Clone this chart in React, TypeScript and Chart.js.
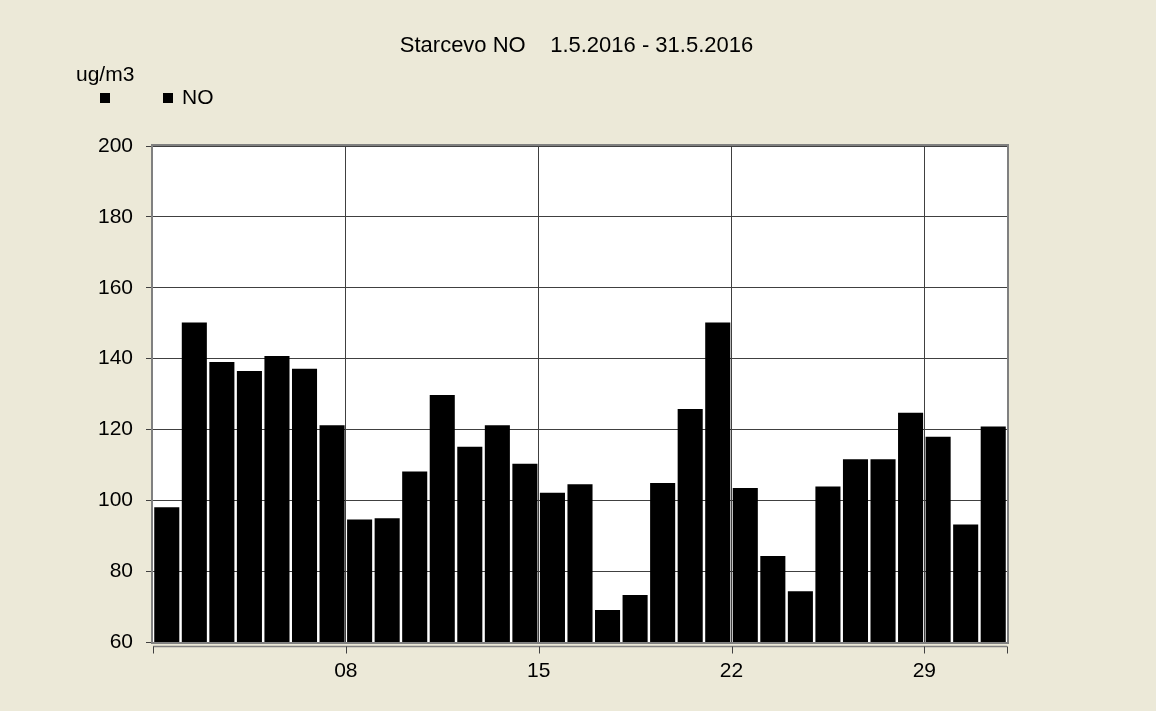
import React, { useEffect, useRef } from 'react';
import { Chart, registerables } from 'chart.js';

Chart.register(...registerables);

const TITLE = 'Starcevo NO    1.5.2016 - 31.5.2016';
const UNIT = 'ug/m3';
const SERIES_NAME = 'NO';

const days = [
  '01', '02', '03', '04', '05', '06', '07', '08', '09', '10',
  '11', '12', '13', '14', '15', '16', '17', '18', '19', '20',
  '21', '22', '23', '24', '25', '26', '27', '28', '29', '30', '31',
];

const noValues = [
  98, 150.2, 139, 136.5, 140.7, 137.1, 121.2, 94.6, 94.9, 108.1,
  129.7, 115.1, 121.2, 110.3, 102.1, 104.5, 69, 73.3, 104.9, 125.8,
  150.2, 103.5, 84.3, 74.3, 103.9, 111.6, 111.6, 124.7, 117.9, 93.2, 120.8,
];

const tickDays = ['08', '15', '22', '29'];

const Y_MIN = 60;
const Y_MAX = 200;
const Y_STEP = 20;

const FONT = "'Liberation Sans', Arial, sans-serif";
const BG = '#ECE9D8';
const GRID = '#404040';

const decorPlugin = {
  id: 'decor',
  beforeDraw(chart: any) {
    const { ctx, chartArea: a, width, height } = chart;
    ctx.save();
    ctx.fillStyle = BG;
    ctx.fillRect(0, 0, width, height);
    ctx.fillStyle = '#ffffff';
    ctx.fillRect(a.left, a.top, a.right - a.left, a.bottom - a.top);
    ctx.restore();
  },
  afterDraw(chart: any) {
    const { ctx, chartArea: a, width } = chart;
    ctx.save();
    // frame
    ctx.strokeStyle = '#808080';
    ctx.lineWidth = 2;
    ctx.strokeRect(a.left - 1, a.top - 1, a.right - a.left + 2, a.bottom - a.top + 2);

    // offset x axis line with tick marks
    const xs = chart.scales.x;
    const half = (xs.getPixelForValue(1) - xs.getPixelForValue(0)) / 2;
    const x0 = xs.getPixelForValue(0) - half;
    const x1 = xs.getPixelForValue(days.length - 1) + half;
    const yLine = a.bottom + 4.5;
    ctx.strokeStyle = '#808080';
    ctx.lineWidth = 1.5;
    ctx.beginPath();
    ctx.moveTo(x0, yLine);
    ctx.lineTo(x1, yLine);
    ctx.stroke();
    ctx.strokeStyle = GRID;
    ctx.lineWidth = 1;
    const tickXs = [x0, ...tickDays.map((d) => xs.getPixelForValue(days.indexOf(d)) - half), x1];
    tickXs.forEach((tx) => {
      const px = Math.round(tx) + 0.5;
      ctx.beginPath();
      ctx.moveTo(px, yLine);
      ctx.lineTo(px, yLine + 7);
      ctx.stroke();
    });

    // title
    ctx.fillStyle = '#000';
    ctx.font = `22px ${FONT}`;
    ctx.textAlign = 'center';
    ctx.textBaseline = 'middle';
    ctx.fillText(TITLE, width / 2 - 1.5, 37.5);

    // unit
    ctx.font = `21px ${FONT}`;
    ctx.textAlign = 'left';
    ctx.textBaseline = 'alphabetic';
    ctx.fillText(UNIT, 68, 73);

    // legend
    ctx.fillRect(92, 85, 10, 10);
    ctx.fillRect(155, 85, 10, 10);
    ctx.textBaseline = 'middle';
    ctx.fillText(SERIES_NAME, 174, 90.5);
    ctx.restore();
  },
};

export default function App() {
  const ref = useRef<HTMLCanvasElement | null>(null);

  useEffect(() => {
    document.body.style.background = BG;
    if (!ref.current) return;
    const chart = new Chart(ref.current, {
      type: 'bar',
      data: {
        labels: days,
        datasets: [
          {
            label: SERIES_NAME,
            data: noValues,
            backgroundColor: '#000000',
            borderWidth: 0,
            categoryPercentage: 1,
            barPercentage: 0.91,
          },
        ],
      },
      options: {
        animation: false,
        responsive: true,
        maintainAspectRatio: false,
        layout: { padding: { left: 0, right: 141, top: 138, bottom: 16 } },
        plugins: {
          legend: { display: false },
          title: { display: false },
          tooltip: { enabled: false },
        },
        scales: {
          x: {
            type: 'category',
            offset: true,
            border: { display: false },
            grid: {
              offset: true,
              drawTicks: false,
              lineWidth: 1,
              color: (c: any) =>
                tickDays.includes(days[c.index]) ? GRID : 'rgba(0,0,0,0)',
            },
            ticks: {
              autoSkip: false,
              maxRotation: 0,
              minRotation: 0,
              padding: 17,
              color: '#000',
              font: { family: FONT, size: 21 },
              labelOffset: -13.8,
              callback: (_v: any, i: number) =>
                tickDays.includes(days[i]) ? days[i] : '',
            },
            afterFit: (s: any) => {
              s.height = 45;
            },
          },
          y: {
            min: Y_MIN,
            max: Y_MAX,
            border: { display: false },
            grid: {
              color: GRID,
              lineWidth: 1,
              tickLength: 7,
              tickColor: GRID,
            },
            ticks: {
              stepSize: Y_STEP,
              padding: 13,
              color: '#000',
              font: { family: FONT, size: 21 },
            },
            afterFit: (s: any) => {
              s.width = 145;
            },
          },
        },
      },
      plugins: [decorPlugin],
    });
    return () => chart.destroy();
  }, []);

  return (
    <div style={{ position: 'relative', width: 1140, height: 695 }}>
      <canvas ref={ref} />
    </div>
  );
}
